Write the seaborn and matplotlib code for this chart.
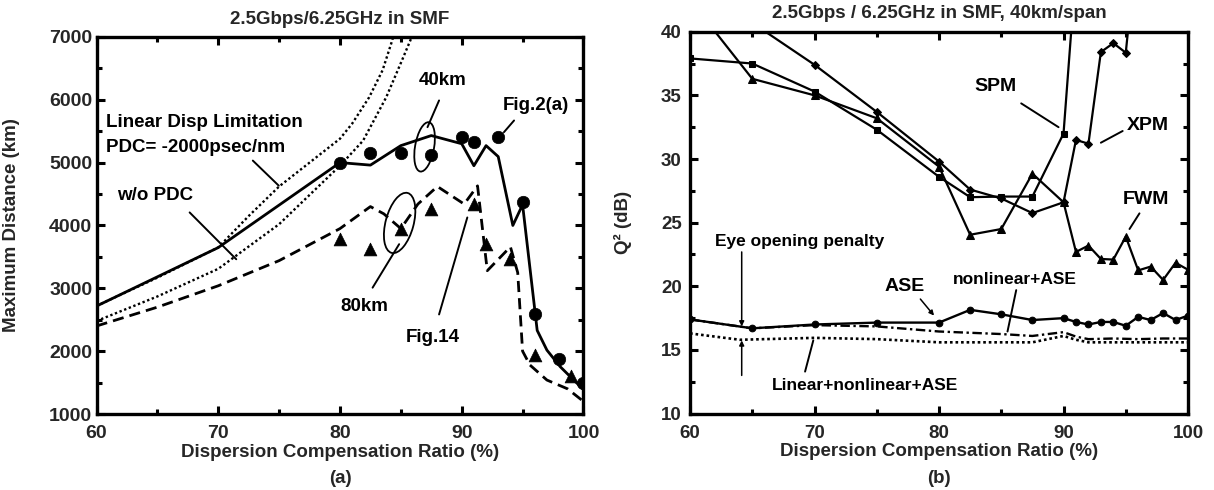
import matplotlib
matplotlib.use("Agg")
import matplotlib.pyplot as plt
import seaborn as sns
from matplotlib.patches import Ellipse
from matplotlib.transforms import ScaledTranslation
from matplotlib.ticker import MultipleLocator

# ---------------- data : panel (a) ----------------
dcr_solid40 = [60, 70, 80, 82.5, 85, 87.5, 90, 91, 92, 93, 94.2, 95, 96.2, 97, 98.1, 99.2, 100]
dist_solid40 = [2717, 3648, 5000, 4960, 5270, 5430, 5300, 4950, 5270, 5095, 4000, 4330, 2330, 2016, 1751, 1540, 1390]

dcr_circ40 = [80, 82.5, 85, 87.5, 90, 91, 93, 95, 96, 98, 100]
dist_circ40 = [5000, 5150, 5150, 5120, 5400, 5330, 5400, 4370, 2590, 1870, 1500]

dcr_dash80 = [60, 65, 70, 75, 80, 82.5, 83.6, 85, 86.4, 88, 90.2, 91.3, 92.1, 94.0, 94.6, 95.0, 95.6, 97, 98.7, 100]
dist_dash80 = [2400, 2700, 3040, 3440, 3950, 4300, 4185, 3950, 4340, 4620, 4340, 4630, 3280, 3660, 3250, 2000, 1780, 1540, 1400, 1200]

dcr_tri80 = [80, 82.5, 85, 87.5, 91, 92, 94, 96, 99]
dist_tri80 = [3780, 3620, 3940, 4260, 4340, 3700, 3460, 1940, 1600]

dcr_lin_limit = [60, 65, 70, 72.5, 75, 77.5, 80, 81, 82.4, 83.5, 84.3, 84.6]
dist_lin_limit = [2720, 3170, 3650, 4150, 4620, 5000, 5380, 5620, 6040, 6470, 6950, 7200]

dcr_wo_pdc = [60, 65, 70, 75, 80, 81.9, 83.8, 85.1, 85.9, 86.2]
dist_wo_pdc = [2480, 2870, 3310, 4020, 4950, 5350, 6040, 6630, 7000, 7200]

# ---------------- data : panel (b) ----------------
dcr_spm = [60, 65, 70, 75, 80, 82.5, 85, 87.5, 90, 91]
q_spm = [37.9, 37.5, 35.3, 32.3, 28.6, 27.0, 27.05, 27.05, 32.0, 45]

dcr_xpm = [60, 65, 70, 75, 80, 82.5, 85, 87.5, 90, 91, 92, 93, 94, 95, 96]
q_xpm = [44, 40.7, 37.4, 33.7, 29.8, 27.6, 26.9, 25.75, 26.6, 31.5, 31.2, 38.4, 39.1, 38.35, 48]

dcr_fwm = [60, 65, 70, 75, 80, 82.5, 85, 87.5, 90, 91, 92, 93, 94, 95, 96, 97, 98, 99, 100]
q_fwm = [42.5, 36.3, 35.0, 33.2, 29.4, 24.05, 24.5, 28.85, 26.6, 22.7, 23.2, 22.15, 22.1, 23.9, 21.25, 21.55, 20.5, 21.85, 21.3]

dcr_ase = [60, 65, 70, 75, 80, 82.5, 85, 87.5, 90, 91, 92, 93, 94, 95, 96, 97, 98, 99, 100]
q_ase = [17.4, 16.7, 17.0, 17.15, 17.15, 18.15, 17.8, 17.35, 17.5, 17.2, 17.0, 17.2, 17.2, 16.9, 17.6, 17.35, 17.9, 17.35, 17.7]

dcr_nl_ase = [60, 65, 70, 75, 80, 85, 87.5, 90, 91, 92, 94, 96, 98, 100]
q_nl_ase = [17.4, 16.7, 16.95, 16.85, 16.45, 16.25, 16.1, 16.4, 16.05, 15.85, 15.9, 15.85, 15.9, 15.9]

dcr_all = [60, 64, 70, 75, 80, 85, 87.5, 90, 91, 92, 95, 100]
q_all = [16.3, 15.8, 15.95, 15.85, 15.6, 15.6, 15.6, 16.1, 15.8, 15.6, 15.6, 15.6]

# ---------------- style ----------------
sns.set_style("ticks")
plt.rcParams['font.family'] = ['Liberation Sans', 'DejaVu Sans']
plt.rcParams['font.weight'] = 'bold'
plt.rcParams['axes.labelweight'] = 'bold'
plt.rcParams['axes.titleweight'] = 'bold'
FS = 13.5

fig = plt.figure(figsize=(12.14, 4.9), dpi=100)
axL = fig.add_axes([0.0795, 0.1551, 0.4011, 0.7696])
axR = fig.add_axes([0.5684, 0.1559, 0.4102, 0.7794])


def line(ax, x, y, ls='-', lw=1.8, marker=None, ms=5):
    sns.lineplot(x=x, y=y, ax=ax, color='k', lw=lw, linestyle=ls, sort=False,
                 estimator=None, marker=marker, markersize=ms,
                 markeredgecolor='k', markerfacecolor='k', legend=False)


def style_axes(ax, tfs):
    for s in ax.spines.values():
        s.set_linewidth(2.4)
        s.set_color('k')
    ax.tick_params(which='both', direction='in', top=True, right=True,
                   width=2.2, color='k', labelsize=tfs)
    ax.tick_params(which='major', length=5.5)
    ax.tick_params(which='minor', length=3.5)
    for lab in ax.get_xticklabels() + ax.get_yticklabels():
        lab.set_fontweight('bold')


# ---------------- panel (a) ----------------
ax = axL
line(ax, dcr_lin_limit, dist_lin_limit, ls=(0, (1, 1.1)), lw=1.7)
line(ax, dcr_wo_pdc, dist_wo_pdc, ls=(0, (1, 1.1)), lw=1.7)
line(ax, dcr_solid40, dist_solid40, ls='-', lw=2.0)
line(ax, dcr_dash80, dist_dash80, ls=(0, (4, 2.2)), lw=2.0)
sns.scatterplot(x=dcr_circ40, y=dist_circ40, ax=ax, marker='o', s=80, color='k',
                edgecolor='k', linewidth=0.5, legend=False, zorder=5)
sns.scatterplot(x=dcr_tri80, y=dist_tri80, ax=ax, marker='^', s=85, color='k',
                edgecolor='k', linewidth=0.5, legend=False, zorder=5)

ax.set_xlim(60, 100)
ax.set_ylim(1000, 7000)
ax.xaxis.set_major_locator(MultipleLocator(10))
ax.xaxis.set_minor_locator(MultipleLocator(5))
ax.yaxis.set_major_locator(MultipleLocator(1000))
ax.yaxis.set_minor_locator(MultipleLocator(500))
style_axes(ax, 14)
ax.tick_params(axis='x', pad=8)
ax.tick_params(axis='y', pad=3)
ax.set_xlabel('Dispersion Compensation Ratio (%)', fontsize=FS, fontweight='bold', labelpad=1)
ax.set_ylabel('Maximum Distance (km)', fontsize=FS, fontweight='bold')
ax.yaxis.set_label_coords(-0.158, 0.5)

kw = dict(fontsize=FS, fontweight='bold', color='k')
ax.text(60.8, 5643, 'Linear Disp Limitation', ha='left', va='center', **kw)
ax.text(60.8, 5244, 'PDC= -2000psec/nm', ha='left', va='center', **kw)
ax.text(64.8, 4473, 'w/o PDC', ha='center', va='center', **kw)
ax.text(88.4, 6308, '40km', ha='center', va='center', **kw)
ax.text(96.1, 5909, 'Fig.2(a)', ha='center', va='center', **kw)
ax.text(82.0, 2717, '80km', ha='center', va='center', **kw)
ax.text(87.6, 2212, 'Fig.14', ha='center', va='center', **kw)

ap = dict(arrowstyle='-', lw=1.4, color='k', shrinkA=0, shrinkB=0)
for (x0, y0), (x1, y1) in [((72.84, 5032), (74.97, 4633)),
                           ((67.65, 4207), (71.48, 3462)),
                           ((88.14, 5989), (87.19, 5564)),
                           ((82.68, 3010), (84.86, 3702)),
                           ((88.14, 2584), (90.46, 4127)),
                           ((94.3, 5670), (93.47, 5484))]:
    ax.annotate('', xy=(x1, y1), xytext=(x0, y0), arrowprops=ap)

for (cx, cy, w, h, ang) in [(86.95, 5250, 0.19, 0.50, -10), (84.9, 4040, 0.28, 0.62, -15)]:
    e = Ellipse((0, 0), w, h, angle=ang, fill=False, lw=1.3, ec='k',
                transform=fig.dpi_scale_trans + ScaledTranslation(cx, cy, ax.transData))
    ax.add_patch(e)

# ---------------- panel (b) ----------------
ax = axR
line(ax, dcr_spm, q_spm, lw=1.6, marker='s', ms=4.5)
line(ax, dcr_xpm, q_xpm, lw=1.6, marker='D', ms=4.0)
line(ax, dcr_fwm, q_fwm, lw=1.6, marker='^', ms=5.5)
line(ax, dcr_ase, q_ase, lw=1.7, marker='o', ms=4.8)
line(ax, dcr_nl_ase, q_nl_ase, ls=(0, (4, 1.5, 1, 1.5)), lw=1.7)
line(ax, dcr_all, q_all, ls=(0, (1, 1.1)), lw=1.9)

ax.set_xlim(60, 100)
ax.set_ylim(10, 40)
ax.xaxis.set_major_locator(MultipleLocator(10))
ax.xaxis.set_minor_locator(MultipleLocator(5))
ax.yaxis.set_major_locator(MultipleLocator(5))
ax.yaxis.set_minor_locator(MultipleLocator(2.5))
style_axes(ax, FS)
ax.tick_params(axis='x', pad=8)
ax.tick_params(axis='y', pad=6)
ax.set_xlabel('Dispersion Compensation Ratio (%)', fontsize=FS, fontweight='bold', labelpad=1)
ax.set_ylabel('Q² (dB)', fontsize=FS, fontweight='bold')
ax.yaxis.set_label_coords(-0.116, 0.5)

kwb = dict(fontsize=14, fontweight='bold', color='k', ha='center', va='center')
ax.text(84.5, 35.66, 'SPM', **kwb)
ax.text(96.8, 32.6, 'XPM', **kwb)
ax.text(96.6, 26.78, 'FWM', **kwb)
ax.text(77.27, 19.97, 'ASE', **kwb)
kws = dict(fontsize=12.5, fontweight='bold', color='k', va='center')
ax.text(86.1, 20.5, 'nonlinear+ASE', ha='center', **kws)
ax.text(62.0, 23.5, 'Eye opening penalty', ha='left', **kws)
ax.text(66.6, 12.2, 'Linear+nonlinear+ASE', ha='left', **kws)

for (x0, y0), (x1, y1) in [((86.6, 34.37), (89.6, 32.5)),
                           ((94.75, 32.2), (93.0, 31.28)),
                           ((96.1, 25.73), (95.3, 24.5)),
                           ((86.2, 19.7), (85.5, 16.45)),
                           ((69.24, 13.3), (69.9, 15.75))]:
    ax.annotate('', xy=(x1, y1), xytext=(x0, y0), arrowprops=ap)
aph = dict(arrowstyle='-|>', lw=1.1, color='k', shrinkA=0, shrinkB=0,
           mutation_scale=7)
for (x0, y0), (x1, y1) in [((78.5, 19.0), (79.6, 17.7)),
                           ((64.15, 22.7), (64.15, 16.85)),
                           ((64.15, 13.0), (64.15, 15.75))]:
    ax.annotate('', xy=(x1, y1), xytext=(x0, y0), arrowprops=aph)

# ---------------- titles / panel labels ----------------
fig.text(0.2801, 0.961, '2.5Gbps/6.25GHz in SMF', ha='center', va='center',
         fontsize=FS, fontweight='bold')
fig.text(0.7735, 0.972, '2.5Gbps / 6.25GHz in SMF, 40km/span', ha='center', va='center',
         fontsize=FS, fontweight='bold')
fig.text(0.2801, 0.024, '(a)', ha='center', va='center', fontsize=FS, fontweight='bold')
fig.text(0.7735, 0.024, '(b)', ha='center', va='center', fontsize=FS, fontweight='bold')

fig.savefig('out.png', dpi=100)
